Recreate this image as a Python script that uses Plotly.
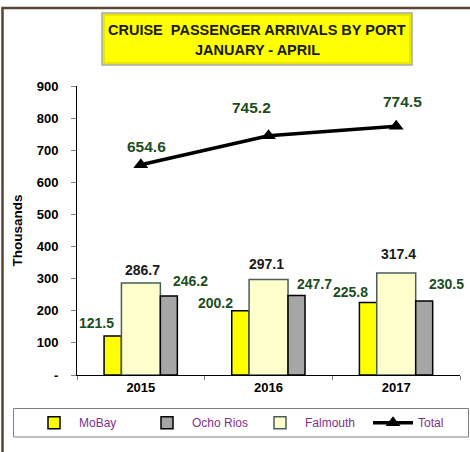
import plotly.graph_objects as go

years = ["2015", "2016", "2017"]
mobay = [121.5, 200.2, 225.8]
falmouth = [286.7, 297.1, 317.4]
ocho_rios = [246.2, 247.7, 230.5]
total = [654.6, 745.2, 774.5]
y_ticks = [0, 100, 200, 300, 400, 500, 600, 700, 800, 900]
y_tick_text = ["-", "100", "200", "300", "400", "500", "600", "700", "800", "900"]

# plot-area geometry (pixels) for paper conversions
W, H = 470, 452
L, R, T, B = 77, 10, 86, 77
PW, PH = W - L - R, H - T - B


def px(x):
    return (x - L) / PW


def py(y):
    return (H - B - y) / PH


GREEN = "#1d4d1d"
FONT = "Liberation Sans, Arial, sans-serif"

# bar styles: offset, width (in category units)
mb_off, mb_w = -0.288, 0.136
fa_off, fa_w = -0.152, 0.305
oc_off, oc_w = 0.153, 0.133

fig = go.Figure()
fig.add_trace(go.Bar(
    x=years, y=mobay, name="MoBay", offset=mb_off, width=mb_w,
    marker=dict(color="#ffff00", line=dict(color="#000000", width=1.5)),
    legendrank=1))
fig.add_trace(go.Bar(
    x=years, y=falmouth, name="Falmouth", offset=fa_off, width=fa_w,
    marker=dict(color="#ffffcc", line=dict(color="#4a5c5c", width=1.5)),
    legendrank=3))
fig.add_trace(go.Bar(
    x=years, y=ocho_rios, name="Ocho Rios", offset=oc_off, width=oc_w,
    marker=dict(color="#a6a6a6", line=dict(color="#000000", width=1.5)),
    legendrank=2))
fig.add_trace(go.Scatter(
    x=years, y=total, name="Total", mode="lines+markers",
    line=dict(color="#000000", width=3.5),
    marker=dict(symbol="triangle-up", size=13, color="#000000"),
    legendrank=4))

# label offsets (pixels) relative to top-centre of each mark
mb_shift = [(-16.5, 13), (-24.5, 8), (-18, 10.5)]
fa_shift = [(2, 13), (-2, 16), (2.5, 19)]
oc_shift = [(21.5, 15), (17.5, 11.5), (22.5, 17)]
to_shift = [(6, 18), (-17, 28), (6.5, 25)]

annotations = []


def add_labels(values, off, w, shifts, color, size):
    for i, v in enumerate(values):
        annotations.append(dict(
            x=i + off + w / 2, y=v, xref="x", yref="y",
            text=f"{v:.1f}", showarrow=False,
            xshift=shifts[i][0], yshift=shifts[i][1],
            xanchor="center", yanchor="middle",
            font=dict(family=FONT, size=size, color=color, weight="bold")))


add_labels(mobay, mb_off, mb_w, mb_shift, GREEN, 14)
add_labels(falmouth, fa_off, fa_w, fa_shift, "#1a1a1a", 14)
add_labels(ocho_rios, oc_off, oc_w, oc_shift, GREEN, 14)
add_labels(total, 0, 0, to_shift, GREEN, 15.5)

# title
annotations.append(dict(
    x=px(257), y=py(30), xref="paper", yref="paper", showarrow=False,
    text="CRUISE  PASSENGER ARRIVALS BY PORT", xanchor="center", yanchor="middle",
    font=dict(family=FONT, size=14.5, color="#1a1a1a", weight="bold")))
annotations.append(dict(
    x=px(257), y=py(50), xref="paper", yref="paper", showarrow=False,
    text="JANUARY - APRIL", xanchor="center", yanchor="middle",
    font=dict(family=FONT, size=14.5, color="#1a1a1a", weight="bold")))

shapes = [
    # outer frame
    dict(type="rect", xref="paper", yref="paper",
         x0=px(2.5), x1=px(480), y0=py(470), y1=py(8),
         line=dict(color="#5a4434", width=2.5), fillcolor="rgba(0,0,0,0)", layer="below"),
    # title box
    dict(type="rect", xref="paper", yref="paper",
         x0=px(102), x1=px(412), y0=py(65), y1=py(13),
         line=dict(color="#a8a8a8", width=1.5), fillcolor="#ffff00", layer="below"),
    dict(type="rect", xref="paper", yref="paper",
         x0=px(104), x1=px(410), y0=py(63), y1=py(15),
         line=dict(color="#e0e000", width=1.5), fillcolor="rgba(0,0,0,0)", layer="below"),
    # legend box
    dict(type="rect", xref="paper", yref="paper",
         x0=px(13.5), x1=px(468.5), y0=py(437), y1=py(408.5),
         line=dict(color="#808080", width=1), fillcolor="white", layer="below"),
]

fig.update_layout(
    width=W, height=H,
    margin=dict(l=L, r=R, t=T, b=B, autoexpand=False),
    paper_bgcolor="white", plot_bgcolor="white",
    barmode="overlay",
    showlegend=True,
    legend=dict(orientation="h", x=px(29), y=py(422.7), xanchor="left", yanchor="middle",
                borderwidth=0, bgcolor="rgba(0,0,0,0)",
                font=dict(family=FONT, size=12, color="#7f2f8f"),
                entrywidth=58, itemwidth=40, traceorder="normal"),
    annotations=annotations,
    shapes=shapes,
    xaxis=dict(type="category", range=[-0.5, 2.5], showline=True, linecolor="#000000",
               linewidth=1, ticks="outside", tickson="boundaries", ticklen=4,
               tickcolor="#808080", showgrid=False, zeroline=False,
               tickfont=dict(family=FONT, size=13, color="#000000", weight="bold")),
    yaxis=dict(range=[0, 900], tickvals=y_ticks, ticktext=y_tick_text, showline=True,
               linecolor="#000000", linewidth=1, ticks="outside", ticklen=5,
               tickcolor="#808080", showgrid=False, zeroline=False,
               ticklabelstandoff=10,
               tickfont=dict(family=FONT, size=13, color="#000000", weight="bold"),
               title=dict(text="Thousands", standoff=10,
                          font=dict(family=FONT, size=13.5, color="#000000", weight="bold"))),
)

fig.write_html("out.html", config={"displayModeBar": False},
               post_script="document.body.style.margin='0';")
